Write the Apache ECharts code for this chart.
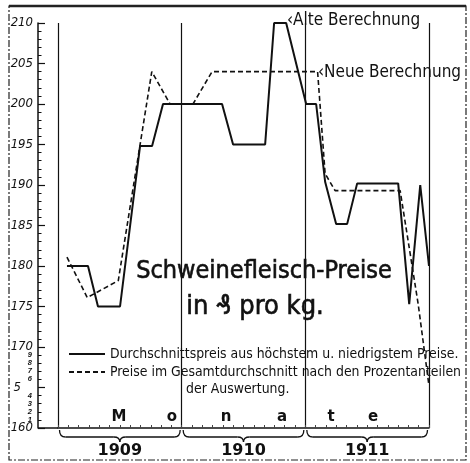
<!DOCTYPE html>
<html lang="de">
<head>
<meta charset="UTF-8">
<title>Schweinefleisch-Preise</title>
<style>
    html, body { margin: 0; padding: 0; background: #fff; }
    #main { width: 470px; height: 463px; }
</style>
</head>
<body>
<div id="main"></div>
<script src="https://cdn.jsdelivr.net/npm/echarts@6/dist/echarts.min.js"></script>
<script>
// Monate seit Januar 1909 / Preis in Pfennig pro kg
var years = ['1909', '1910', '1911'];
var monthLetters = ['M', 'o', 'n', 'a', 't', 'e'];

var alteMonat = [0.87, 2.91, 3.88, 6.02, 7.96, 9.13, 10.19, 15.92, 16.99, 20.1, 20.97, 22.14, 24.08, 25.05, 25.92, 26.99, 28.06, 29.03, 33.01, 34.08, 35.15, 36];
var altePreis = [180, 180, 175, 175, 194.8, 194.8, 200, 200, 195, 195, 210, 210, 200, 200, 190.4, 185.2, 185.2, 190.2, 190.2, 175.3, 190, 180];

var neueMonat = [0.87, 2.84, 5.85, 9.1, 10.87, 13.1, 14.95, 25.19, 25.92, 26.89, 33.2, 34.95, 36];
var neuePreis = [181.1, 176.1, 178.2, 204, 200, 200, 204, 204, 191.4, 189.3, 189.3, 175.3, 165.2];

// Beschriftung der y-Achse
var majorLabels = { 160: '160', 165: '5', 170: '170', 175: '175', 180: '180', 185: '185', 190: '190', 195: '195', 200: '200', 205: '205', 210: '210' };
var minorLabels = { 161: '1', 162: '2', 163: '3', 164: '4', 166: '6', 167: '7', 168: '8', 169: '9' };

var nameAlt = 'Durchschnittspreis aus höchstem u. niedrigstem Preise.';
var nameNeu = 'Preise im Gesamtdurchschnitt nach den Prozentanteilen';

function pairs(xs, ys) {
    return xs.map(function (x, i) { return [x, ys[i]]; });
}

var narrow = "'Liberation Sans Narrow', 'DejaVu Sans Condensed', 'Liberation Sans', sans-serif";
var ink = '#111';

var chart = echarts.init(document.getElementById('main'));

var option = {
    animation: false,
    backgroundColor: '#fff',
    grid: { left: 58, right: 41, top: 23, bottom: 35 },
    legend: {
        orient: 'vertical',
        left: 63,
        top: 342,
        itemWidth: 36,
        itemHeight: 14,
        itemGap: 4,
        selectedMode: false,
        data: [nameAlt, nameNeu],
        itemStyle: { opacity: 0 },
        textStyle: { color: ink, fontSize: 13.9, lineHeight: 14, fontFamily: narrow }
    },
    xAxis: [
        {
            type: 'value', min: 0, max: 36, interval: 1,
            axisLine: { show: true, onZero: false, lineStyle: { color: ink, width: 1.5 } },
            axisTick: { show: true, inside: true, length: 3, lineStyle: { color: '#444', width: 1 } },
            axisLabel: { show: false },
            splitLine: { show: false }
        },
        {
            type: 'category', data: years, boundaryGap: true, position: 'bottom',
            axisLine: { show: false, onZero: false },
            axisTick: { show: false },
            axisLabel: { color: ink, fontSize: 16, fontWeight: 'bold', fontFamily: 'DejaVu Sans', margin: 15, lineHeight: 16 },
            splitLine: { show: true, lineStyle: { color: ink, width: 1.2 } }
        }
    ],
    yAxis: [
        {
            type: 'value', position: 'left', min: 160, max: 210, interval: 5, offset: 20,
            axisLine: { show: true, onZero: false, lineStyle: { color: ink, width: 1.5 } },
            axisTick: { show: true, inside: true, length: 7, lineStyle: { color: ink, width: 1.2 } },
            axisLabel: {
                margin: 5, color: ink, fontSize: 13, fontStyle: 'italic', fontFamily: narrow,
                formatter: function (v) {
                    if (v === 165) return '{five|5}';
                    return majorLabels[v] || '';
                },
                rich: { five: { fontSize: 13, fontStyle: 'italic', fontFamily: narrow, padding: [0, 12, 0, 0] } }
            },
            splitLine: { show: false }
        },
        {
            type: 'value', position: 'left', min: 160, max: 210, interval: 1, offset: 20,
            axisLine: { show: false, onZero: false },
            axisTick: { show: true, inside: true, length: 3.5, lineStyle: { color: ink, width: 1 } },
            axisLabel: {
                margin: 6, color: ink, fontSize: 7.5, fontWeight: 'bold', fontStyle: 'italic', fontFamily: 'Liberation Sans',
                formatter: function (v) { return minorLabels[v] || ''; }
            },
            splitLine: { show: false }
        }
    ],
    series: [
        {
            name: nameAlt, type: 'line', xAxisIndex: 0, yAxisIndex: 0,
            symbol: 'none', data: pairs(alteMonat, altePreis),
            lineStyle: { color: ink, width: 2 },
            itemStyle: { color: ink }
        },
        {
            name: nameNeu, type: 'line', xAxisIndex: 0, yAxisIndex: 0,
            symbol: 'none', data: pairs(neueMonat, neuePreis),
            lineStyle: { color: ink, width: 1.6, type: [5, 3] },
            itemStyle: { color: ink }
        }
    ]
};

chart.setOption(option);

function px(m) { return chart.convertToPixel({ xAxisIndex: 0 }, m); }
function py(v) { return chart.convertToPixel({ yAxisIndex: 0 }, v); }

var graphics = [];
var yBase = py(160);
var braceStyle = { fill: 'none', stroke: ink, lineWidth: 1.3 };

// Rahmen
graphics.push({ type: 'rect', shape: { x: 9, y: 6, width: 457, height: 454 },
    style: { fill: 'none', stroke: '#222', lineWidth: 1.2, lineDash: [7, 2, 2, 2] } });
graphics.push({ type: 'line', shape: { x1: 9, y1: 6, x2: 466, y2: 6 }, style: { stroke: '#222', lineWidth: 2.5 } });

// Grundlinie bis zur y-Achse
graphics.push({ type: 'line', shape: { x1: px(0) - 20, y1: yBase, x2: px(0), y2: yBase }, style: { stroke: ink, lineWidth: 1.5 } });

// Klammern unter den Jahren
years.forEach(function (y, i) {
    var x0 = px(i * 12) + 1.5, x1 = px((i + 1) * 12) - 1.5, c = (x0 + x1) / 2;
    var a = yBase + 2, b = yBase + 9, t = yBase + 14;
    graphics.push({ type: 'bezierCurve', shape: { x1: x0, y1: a, cpx1: x0, cpy1: b, x2: x0 + 6, y2: b }, style: braceStyle });
    graphics.push({ type: 'line', shape: { x1: x0 + 6, y1: b, x2: c - 6, y2: b }, style: braceStyle });
    graphics.push({ type: 'bezierCurve', shape: { x1: c - 6, y1: b, cpx1: c, cpy1: b, x2: c, y2: t }, style: braceStyle });
    graphics.push({ type: 'bezierCurve', shape: { x1: c, y1: t, cpx1: c, cpy1: b, x2: c + 6, y2: b }, style: braceStyle });
    graphics.push({ type: 'line', shape: { x1: c + 6, y1: b, x2: x1 - 6, y2: b }, style: braceStyle });
    graphics.push({ type: 'bezierCurve', shape: { x1: x1 - 6, y1: b, cpx1: x1, cpy1: b, x2: x1, y2: a }, style: braceStyle });
});

// "Monate"
var letterX = [119, 172, 226, 282, 331, 373];
monthLetters.forEach(function (l, i) {
    graphics.push({ type: 'text', x: letterX[i], y: 417,
        style: { text: l, fill: ink, font: 'bold 15px "DejaVu Sans"', textAlign: 'center', textVerticalAlign: 'middle' } });
});

// Titel
graphics.push({ type: 'text', x: 264, y: 271,
    style: { text: 'Schweinefleisch-Preise', fill: ink, stroke: ink, lineWidth: 0.6, font: '25px ' + narrow, textAlign: 'center', textVerticalAlign: 'middle' } });
graphics.push({ type: 'text', x: 255, y: 307,
    style: { text: 'in \u20B0 pro kg.', fill: ink, stroke: ink, lineWidth: 0.6, font: '27px ' + narrow, textAlign: 'center', textVerticalAlign: 'middle' } });

// Legende, 2. Zeile
graphics.push({ type: 'text', x: 186, y: 389,
    style: { text: 'der Auswertung.', fill: ink, font: '13.9px ' + narrow, textAlign: 'left', textVerticalAlign: 'middle' } });

// Kurvenbeschriftungen
graphics.push({ type: 'text', x: 287, y: 21,
    style: { text: '\u2039Alte Berechnung', fill: ink, font: '17px ' + narrow, textAlign: 'left', textVerticalAlign: 'middle' } });
graphics.push({ type: 'text', x: 318, y: 73,
    style: { text: '\u2039Neue Berechnung', fill: ink, font: '17px ' + narrow, textAlign: 'left', textVerticalAlign: 'middle' } });

chart.setOption({ graphic: graphics });
</script>
</body>
</html>
